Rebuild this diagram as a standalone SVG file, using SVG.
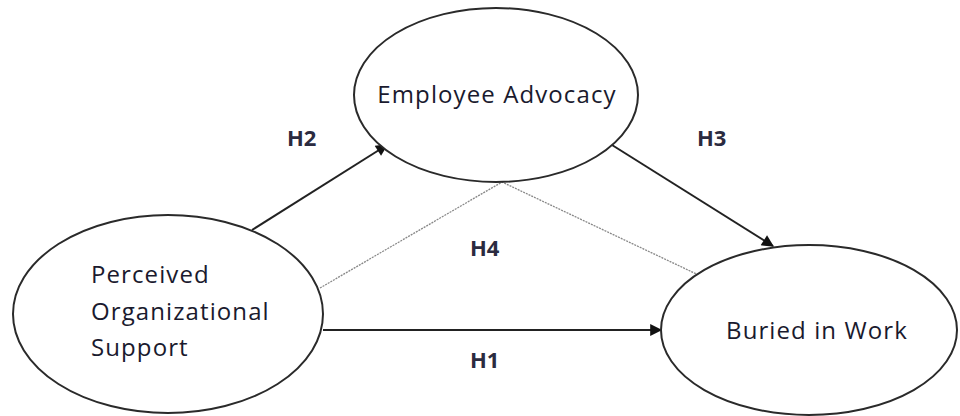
<svg xmlns="http://www.w3.org/2000/svg" width="960" height="416" viewBox="0 0 960 416">
<style>
.node{fill:#fff;stroke:#2a2a2a;stroke-width:2}
.lbl{font-family:"Open Sans","Noto Sans",sans-serif;font-size:24px;letter-spacing:1.1px;fill:#1a1a2e}
.h{font-family:"Open Sans","Noto Sans",sans-serif;font-size:22px;font-weight:bold;fill:#2b2b40}
.arr{stroke:#222;stroke-width:2;fill:none;marker-end:url(#ah)}
.dot{stroke:#888;stroke-width:1.3;fill:none;stroke-dasharray:2 1}
</style>
<defs>
<marker id="ah" viewBox="0 0 10 10" refX="9" refY="5" markerWidth="7" markerHeight="6" orient="auto" markerUnits="strokeWidth">
<path d="M0,0 L10,5 L0,10 z" fill="#111"/>
</marker>
</defs>
<rect width="960" height="416" fill="#fff"/>
<g id="connectors">
<line class="arr" x1="252" y1="230" x2="387" y2="145"/>
<line class="arr" x1="612" y1="145" x2="773" y2="246"/>
<line class="arr" x1="323" y1="330" x2="661" y2="330"/>
<polyline class="dot" points="320,288 502,182 707,279"/>
</g>
<g id="node-pos">
<ellipse class="node" cx="168" cy="314" rx="155" ry="99"/>
<text class="lbl" x="91" y="283">Perceived</text>
<text class="lbl" x="91" y="320">Organizational</text>
<text class="lbl" x="91" y="356">Support</text>
</g>
<g id="node-ea">
<ellipse class="node" cx="496" cy="95" rx="142" ry="87"/>
<text class="lbl" x="497" y="103" text-anchor="middle">Employee Advocacy</text>
</g>
<g id="node-biw">
<ellipse class="node" cx="809" cy="330" rx="148" ry="85"/>
<text class="lbl" x="817" y="339" text-anchor="middle">Buried in Work</text>
</g>
<g id="labels">
<text class="h" x="287" y="146">H2</text>
<text class="h" x="697" y="146">H3</text>
<text class="h" x="470" y="256">H4</text>
<text class="h" x="470" y="368">H1</text>
</g>
</svg>
